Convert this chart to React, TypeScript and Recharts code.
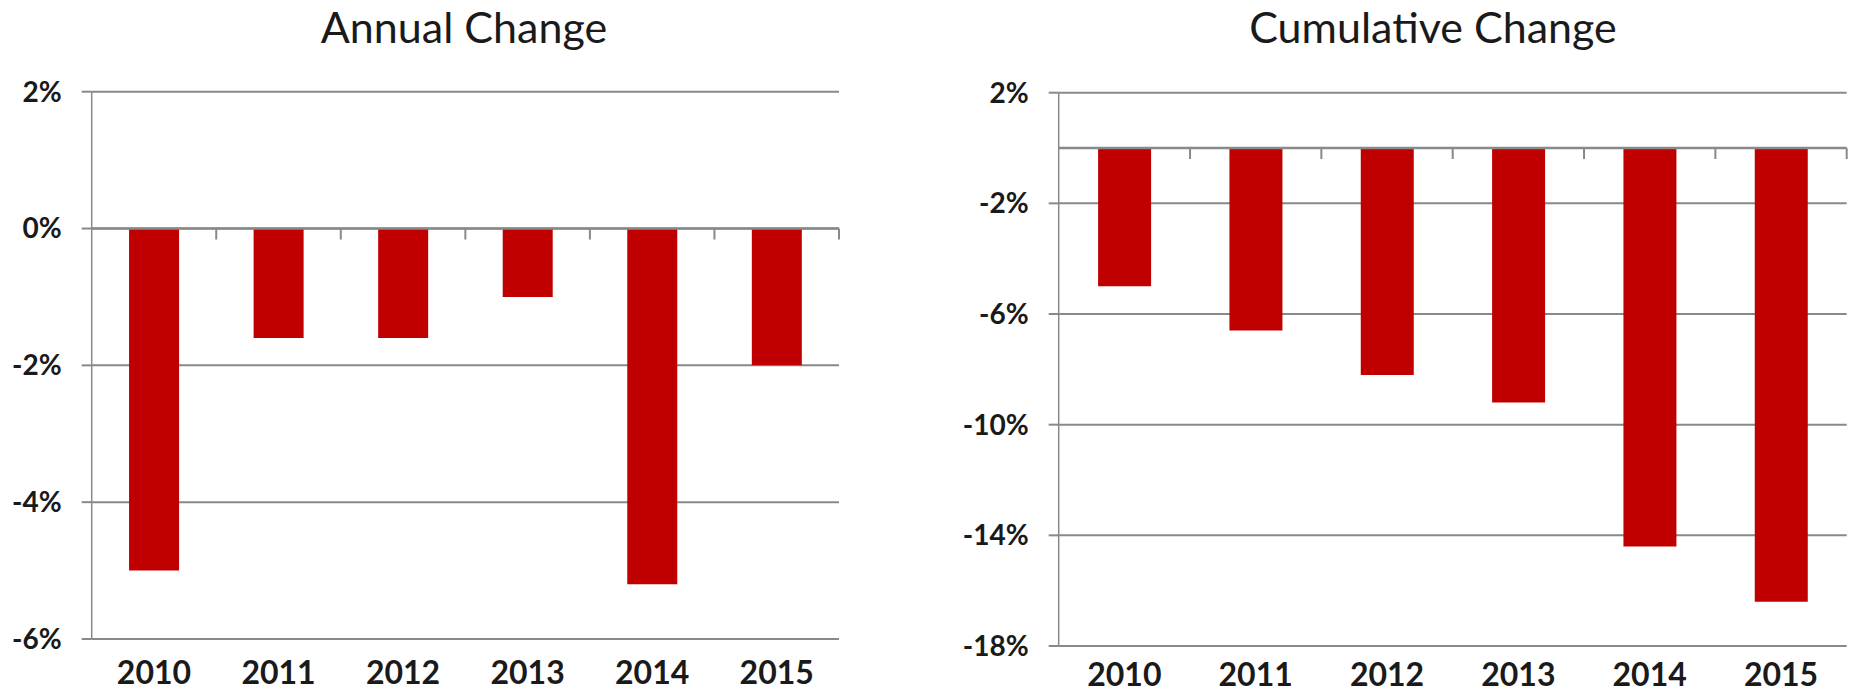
import { BarChart, Bar, XAxis, YAxis, CartesianGrid, ReferenceLine } from 'recharts';

const years = ['2010', '2011', '2012', '2013', '2014', '2015'];
const annualChange = [-5.0, -1.6, -1.6, -1.0, -5.2, -2.0];
const cumulativeChange = [-5.0, -6.6, -8.2, -9.2, -14.4, -16.4];
const annualTicks = [2, 0, -2, -4, -6];
const cumulativeTicks = [2, -2, -6, -10, -14, -18];

const annualData = years.map((year, i) => ({ year, value: annualChange[i] }));
const cumulativeData = years.map((year, i) => ({ year, value: cumulativeChange[i] }));

const GRID = '#898989';
const BAR = '#C00000';
const TEXT = '#1a1a1a';
const FONT = 'Lato, sans-serif';

// zero line with little category separator ticks hanging below it
function ZeroAxis(props: any) {
  const { x1, x2, y1, count } = props;
  const step = (x2 - x1) / count;
  const marks = [];
  for (let i = 1; i <= count; i++) {
    const x = x1 + step * i;
    marks.push(<line key={i} x1={x} x2={x} y1={y1} y2={y1 + 11} stroke={GRID} strokeWidth={2} />);
  }
  return (
    <g>
      <line x1={x1} x2={x2} y1={y1} y2={y1} stroke={GRID} strokeWidth={2.5} />
      {marks}
    </g>
  );
}

function Title({ text, center }: { text: string; center: number }) {
  return (
    <div
      style={{
        position: 'absolute',
        left: center - 300,
        width: 600,
        top: 5,
        textAlign: 'center',
        fontFamily: FONT,
        fontSize: 43,
        lineHeight: '43px',
        color: TEXT,
      }}
    >
      {text}
    </div>
  );
}

interface PanelProps {
  data: { year: string; value: number }[];
  ticks: number[];
  domain: [number, number];
  width: number;
  axisWidth: number;
  top: number;
  right: number;
  xHeight: number;
  labelGap: number;
}

function Panel({ data, ticks, domain, width, axisWidth, top, right, xHeight, labelGap }: PanelProps) {
  return (
    <BarChart
      width={width}
      height={696}
      data={data}
      margin={{ top, right, left: 0, bottom: 0 }}
      barCategoryGap="30%"
    >
      <CartesianGrid vertical={false} horizontalValues={ticks} stroke={GRID} strokeWidth={2} />
      <XAxis
        dataKey="year"
        axisLine={false}
        tickLine={false}
        tickSize={0}
        tickMargin={labelGap}
        height={xHeight}
        interval={0}
        tick={{ fill: TEXT, fontFamily: FONT, fontWeight: 700, fontSize: 32 }}
      />
      <YAxis
        type="number"
        domain={domain}
        ticks={ticks}
        interval={0}
        width={axisWidth}
        tickSize={10}
        tickMargin={20}
        tickFormatter={(v: number) => `${v}%`}
        axisLine={{ stroke: GRID, strokeWidth: 1.5 }}
        tickLine={{ stroke: GRID, strokeWidth: 2 }}
        tick={{ fill: TEXT, fontFamily: FONT, fontWeight: 700, fontSize: 28 }}
      />
      <Bar dataKey="value" fill={BAR} isAnimationActive={false} />
      <ReferenceLine y={0} shape={(p: any) => <ZeroAxis {...p} count={data.length} />} />
    </BarChart>
  );
}

export default function App() {
  return (
    <div style={{ position: 'absolute', left: 0, top: 0, width: 1854, height: 696, background: '#fff' }}>
      <Title text="Annual Change" center={464} />
      <Title text="Cumulative Change" center={1433} />
      <div style={{ position: 'absolute', left: 0, top: 0 }}>
        <Panel
          data={annualData}
          ticks={annualTicks}
          domain={[-6, 2]}
          width={860}
          axisWidth={91.7}
          top={91.7}
          right={21}
          xHeight={57}
          labelGap={22}
        />
      </div>
      <div style={{ position: 'absolute', left: 927, top: 0 }}>
        <Panel
          data={cumulativeData}
          ticks={cumulativeTicks}
          domain={[-18, 2]}
          width={927}
          axisWidth={131.7}
          top={92.7}
          right={7.3}
          xHeight={50}
          labelGap={17}
        />
      </div>
    </div>
  );
}
